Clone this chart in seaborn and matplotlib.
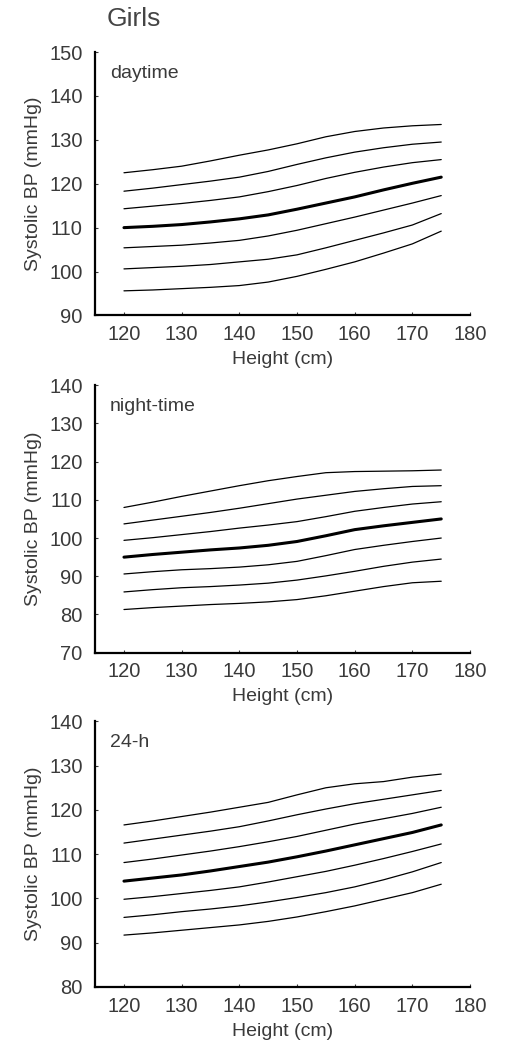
import numpy as np
import pandas as pd
import seaborn as sns
import matplotlib.pyplot as plt

# Height grid (cm) and percentile curves
heights = [120, 125, 130, 135, 140, 145, 150, 155, 160, 165, 170, 175]
percentiles = ["P97", "P90", "P75", "P50", "P25", "P10", "P3"]

day = {
    "P97": [122.5, 123.2, 124.0, 125.2, 126.5, 127.7, 129.1, 130.7, 131.9, 132.7, 133.2, 133.5],
    "P90": [118.3, 119.0, 119.8, 120.6, 121.5, 122.8, 124.4, 125.9, 127.2, 128.2, 129.0, 129.5],
    "P75": [114.3, 114.9, 115.5, 116.2, 117.0, 118.2, 119.6, 121.2, 122.6, 123.8, 124.8, 125.5],
    "P50": [110.0, 110.3, 110.7, 111.3, 112.0, 112.9, 114.2, 115.6, 117.0, 118.6, 120.1, 121.5],
    "P25": [105.4, 105.7, 106.0, 106.5, 107.1, 108.1, 109.4, 110.9, 112.4, 114.0, 115.6, 117.3],
    "P10": [100.6, 100.9, 101.2, 101.6, 102.2, 102.8, 103.8, 105.4, 107.1, 108.8, 110.6, 113.2],
    "P3": [95.6, 95.8, 96.1, 96.4, 96.8, 97.6, 98.9, 100.5, 102.2, 104.2, 106.3, 109.2],
}
night = {
    "P97": [108.0, 109.4, 110.9, 112.3, 113.7, 115.0, 116.1, 117.1, 117.4, 117.5, 117.6, 117.8],
    "P90": [103.7, 104.7, 105.7, 106.7, 107.8, 109.0, 110.2, 111.2, 112.2, 112.9, 113.5, 113.7],
    "P75": [99.4, 100.1, 100.9, 101.7, 102.6, 103.4, 104.3, 105.6, 107.0, 108.0, 108.9, 109.5],
    "P50": [95.0, 95.7, 96.3, 96.9, 97.4, 98.1, 99.1, 100.6, 102.2, 103.2, 104.1, 105.0],
    "P25": [90.6, 91.2, 91.7, 92.0, 92.4, 93.0, 93.9, 95.4, 97.0, 98.1, 99.1, 100.0],
    "P10": [85.9, 86.5, 87.0, 87.3, 87.7, 88.2, 89.0, 90.1, 91.3, 92.6, 93.7, 94.5],
    "P3": [81.3, 81.8, 82.2, 82.6, 82.9, 83.3, 83.9, 84.9, 86.1, 87.3, 88.3, 88.7],
}
h24 = {
    "P97": [116.6, 117.5, 118.5, 119.5, 120.6, 121.7, 123.4, 125.0, 125.9, 126.4, 127.4, 128.1],
    "P90": [112.5, 113.4, 114.3, 115.2, 116.2, 117.5, 118.9, 120.2, 121.4, 122.4, 123.4, 124.4],
    "P75": [108.1, 108.9, 109.8, 110.7, 111.7, 112.8, 114.0, 115.4, 116.8, 118.0, 119.2, 120.6],
    "P50": [103.9, 104.6, 105.3, 106.2, 107.2, 108.2, 109.4, 110.7, 112.1, 113.5, 114.9, 116.6],
    "P25": [99.8, 100.4, 101.1, 101.8, 102.6, 103.7, 104.9, 106.1, 107.5, 109.0, 110.6, 112.3],
    "P10": [95.7, 96.3, 97.0, 97.6, 98.3, 99.2, 100.2, 101.3, 102.6, 104.2, 106.0, 108.1],
    "P3": [91.7, 92.2, 92.8, 93.4, 94.0, 94.8, 95.8, 97.0, 98.3, 99.8, 101.3, 103.2],
}

panel_labels = ["daytime", "night-time", "24-h"]
panel_data = [day, night, h24]
y_limits = [(90, 150), (70, 140), (80, 140)]
x_ticks = [120, 130, 140, 150, 160, 170, 180]

sns.set_style("ticks")
plt.rcParams["font.family"] = ["Liberation Sans", "DejaVu Sans"]
txt = "#3a3a3a"

fig = plt.figure(figsize=(5.06, 10.41), dpi=100)
# axes rectangles [left, bottom, width, height]
rects = [[0.188, 0.697, 0.741, 0.253],
         [0.188, 0.373, 0.741, 0.257],
         [0.188, 0.052, 0.741, 0.255]]

for rect, lab, data, ylim in zip(rects, panel_labels, panel_data, y_limits):
    ax = fig.add_axes(rect)
    for p in percentiles:
        sns.lineplot(x=heights, y=data[p], ax=ax, color="black",
                     linewidth=2.2 if p == "P50" else 0.9)
    ax.set_xlim(115, 180)
    ax.set_ylim(*ylim)
    ax.set_xticks(x_ticks)
    ax.set_yticks(np.arange(ylim[0], ylim[1] + 1, 10))
    ax.tick_params(direction="in", length=2, width=0.8, labelsize=14.5,
                   colors=txt, labelcolor=txt)
    ax.tick_params(axis="y", pad=9)
    ax.tick_params(axis="x", pad=7)
    sns.despine(ax=ax)
    for s in ["left", "bottom"]:
        ax.spines[s].set_linewidth(1.6)
        ax.spines[s].set_color("black")
    ax.set_xlabel("Height (cm)", fontsize=14, color=txt, labelpad=5)
    ax.set_ylabel("Systolic BP (mmHg)", fontsize=14, color=txt, labelpad=5)
    ax.text(0.04, 0.92, lab, transform=ax.transAxes, fontsize=14,
            color=txt, va="center", ha="left")

fig.text(0.211, 0.982, "Girls", fontsize=19, color="#444444",
         va="center", ha="left")

fig.savefig("out.png", dpi=100, facecolor="white")
